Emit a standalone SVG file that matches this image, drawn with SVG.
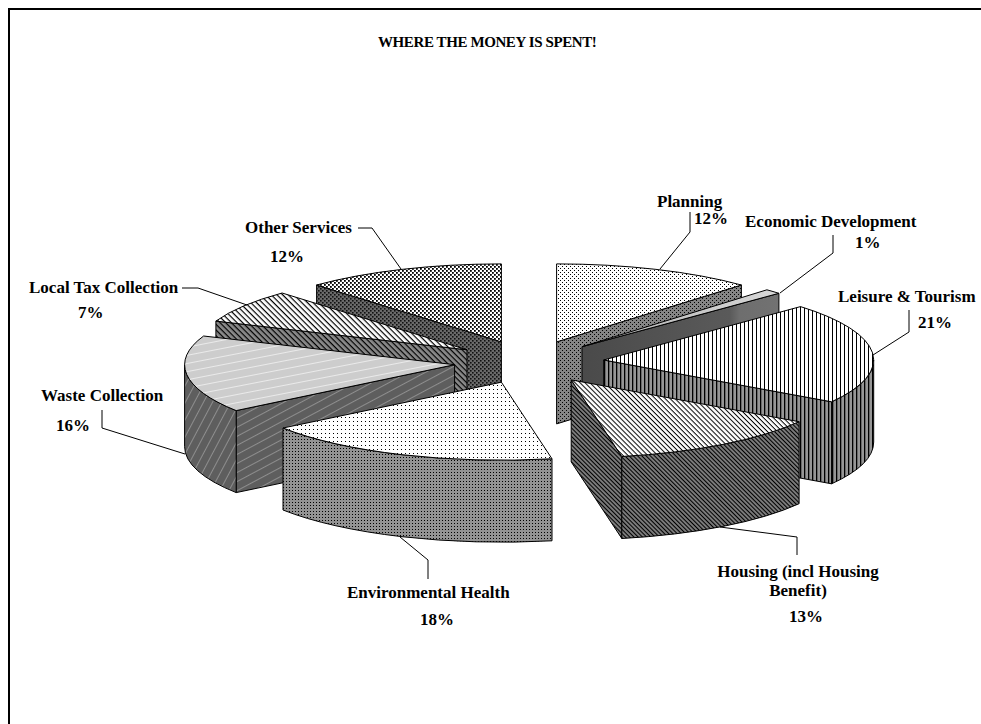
<svg xmlns="http://www.w3.org/2000/svg" width="981" height="724" viewBox="0 0 981 724">
<style>
.face{stroke:#000;stroke-width:1;stroke-linejoin:round}
.lbl{font-family:"Liberation Serif","Times New Roman",serif;font-weight:bold;font-size:17px;fill:#000}
.title{font-family:"Liberation Serif","Times New Roman",serif;font-weight:bold;font-size:15px;letter-spacing:-0.4px;fill:#000}
.lead{fill:none;stroke:#000;stroke-width:1}
</style>
<defs>
<pattern id="plTop" width="4" height="4" patternUnits="userSpaceOnUse"><rect width="4" height="4" fill="#fff"/><rect x="0" y="0" width="1" height="1" fill="#000"/><rect x="2" y="2" width="1" height="1" fill="#000"/></pattern>
<pattern id="plSide" width="4" height="4" patternUnits="userSpaceOnUse"><rect width="4" height="4" fill="#858585"/><rect x="0" y="0" width="1" height="1" fill="#000"/><rect x="2" y="2" width="1" height="1" fill="#000"/></pattern>
<pattern id="envTop" width="4" height="4" patternUnits="userSpaceOnUse"><rect width="4" height="4" fill="#fff"/><rect x="1" y="1" width="1" height="1" fill="#000"/></pattern>
<pattern id="envSide" width="3" height="3" patternUnits="userSpaceOnUse"><rect width="3" height="3" fill="#939393"/><rect x="1" y="1" width="1" height="1" fill="#000"/></pattern>
<pattern id="leiTop" width="4" height="4" patternUnits="userSpaceOnUse"><rect width="4" height="4" fill="#fff"/><rect x="0" y="0" width="1" height="4" fill="#000"/></pattern>
<pattern id="leiSide" width="4" height="4" patternUnits="userSpaceOnUse"><rect width="4" height="4" fill="#969696"/><rect x="0" y="0" width="1.3" height="4" fill="#000"/></pattern>
<pattern id="houTop" width="3.5" height="3.5" patternUnits="userSpaceOnUse" patternTransform="rotate(45)"><rect width="3.5" height="3.5" fill="#fff"/><rect x="0" y="0" width="3.5" height="1" fill="#000"/></pattern>
<pattern id="houSide" width="3" height="3" patternUnits="userSpaceOnUse" patternTransform="rotate(45)"><rect width="3" height="3" fill="#7a7a7a"/><rect x="0" y="0" width="3" height="1" fill="#000"/></pattern>
<pattern id="ltTop" width="4" height="4" patternUnits="userSpaceOnUse" patternTransform="rotate(45)"><rect width="4" height="4" fill="#fff"/><rect x="0" y="0" width="4" height="1.2" fill="#000"/></pattern>
<pattern id="ltSide" width="4" height="4" patternUnits="userSpaceOnUse" patternTransform="rotate(45)"><rect width="4" height="4" fill="#8a8a8a"/><rect x="0" y="0" width="4" height="1.2" fill="#000"/></pattern>
<pattern id="otTop" width="4" height="4" patternUnits="userSpaceOnUse"><rect width="4" height="4" fill="#fff"/><rect x="0" y="0" width="1.8" height="1.8" fill="#000"/><rect x="2" y="2" width="1.8" height="1.8" fill="#000"/></pattern>
<pattern id="otSide" width="4" height="4" patternUnits="userSpaceOnUse"><rect width="4" height="4" fill="#6a6a6a"/><rect x="0" y="0" width="1.6" height="1.6" fill="#111"/><rect x="2" y="2" width="1.6" height="1.6" fill="#111"/></pattern>
<pattern id="waTop" width="8" height="8" patternUnits="userSpaceOnUse" patternTransform="rotate(-11)"><rect width="8" height="8" fill="#cdcdcd"/><rect x="0" y="0" width="8" height="0.8" fill="#f2f2f2"/></pattern>
<pattern id="waFront" width="8" height="8" patternUnits="userSpaceOnUse" patternTransform="rotate(-28)"><rect width="8" height="8" fill="#5e5e5e"/><rect x="0" y="0" width="8" height="0.8" fill="#9a9a9a"/></pattern>
<pattern id="waWall" width="8" height="8" patternUnits="userSpaceOnUse" patternTransform="rotate(-62)"><rect width="8" height="8" fill="#5e5e5e"/><rect x="0" y="0" width="8" height="0.8" fill="#9a9a9a"/></pattern>
<linearGradient id="ecSide" x1="0" y1="0" x2="1" y2="0"><stop offset="0" stop-color="#4a4a4a"/><stop offset="0.75" stop-color="#5a5a5a"/><stop offset="0.8" stop-color="#6e6e6e"/><stop offset="1" stop-color="#727272"/></linearGradient>
<linearGradient id="ecTop" x1="0" y1="0" x2="1" y2="0"><stop offset="0" stop-color="#b0b0b0"/><stop offset="1" stop-color="#d8d8d8"/></linearGradient>
</defs>
<rect width="981" height="724" fill="#fff"/>
<path d="M9,724 V9 H981" fill="none" stroke="#000" stroke-width="2"/>
<text class="title" x="378" y="47">WHERE THE MONEY IS SPENT!</text>

<g id="slice-planning">
<path class="face" fill="url(#plSide)" d="M556.6,341.9 L741.4,285.0 L741.4,367.0 L556.6,423.9 Z"/>
<path class="face" fill="url(#plTop)" d="M556.6,341.9 L556.6,263.9 A270,78 0 0 1 741.4,285.0 Z"/>
<text class="lbl" x="657" y="207">Planning</text>
<text class="lbl" x="694" y="224">12%</text>
</g>

<g id="slice-other-services">
<path class="face" fill="url(#otSide)" d="M501.4,341.9 L316.6,285.0 L316.6,367.0 L501.4,423.9 Z"/>
<path class="face" fill="url(#otTop)" d="M501.4,341.9 L316.6,285.0 A270,78 0 0 1 501.4,263.9 Z"/>
<text class="lbl" x="245" y="233">Other Services</text>
<text class="lbl" x="270" y="262">12%</text>
</g>

<g id="slice-economic-development">
<path class="face" fill="url(#ecSide)" d="M582.0,346.7 L778.9,293.3 L778.9,375.3 L582.0,428.7 Z"/>
<path class="face" fill="url(#ecTop)" d="M582.0,346.7 L766.9,289.8 A270,78 0 0 1 778.9,293.3 Z"/>
<text class="lbl" x="745" y="227">Economic Development</text>
<text class="lbl" x="855" y="248">1%</text>
</g>

<g id="slice-local-tax-collection">
<path class="face" fill="url(#ltSide)" d="M467.0,349.8 L215.9,321.1 L215.9,403.1 L467.0,431.8 Z"/>
<path class="face" fill="url(#ltTop)" d="M467.0,349.8 L215.9,321.1 A270,78 0 0 1 282.1,293.0 Z"/>
<text class="lbl" x="29" y="293">Local Tax Collection</text>
<text class="lbl" x="78" y="318">7%</text>
</g>

<g id="slice-leisure-tourism">
<path class="face" fill="url(#leiSide)" d="M603.7,360.0 L831.6,401.8 L831.6,483.8 L603.7,442.0 Z"/>
<path class="face" fill="url(#leiSide)" d="M873.7,360.0 A270,78 0 0 1 831.6,401.8 L831.6,483.8 A270,78 0 0 0 873.7,442.0 Z"/>
<path class="face" fill="url(#leiTop)" d="M603.7,360.0 L800.5,306.6 A270,78 0 0 1 831.6,401.8 Z"/>
<text class="lbl" x="838" y="302">Leisure &amp; Tourism</text>
<text class="lbl" x="918" y="328">21%</text>
</g>

<g id="slice-waste-collection">
<path class="face" fill="url(#waFront)" d="M454.6,364.7 L236.2,410.6 L236.2,492.6 L454.6,446.7 Z"/>
<path class="face" fill="url(#waWall)" d="M236.2,410.6 A270,78 0 0 1 184.6,364.7 L184.6,446.7 A270,78 0 0 0 236.2,492.6 Z"/>
<path class="face" fill="url(#waTop)" d="M454.6,364.7 L236.2,410.6 A270,78 0 0 1 203.6,336.0 Z"/>
<text class="lbl" x="41" y="401">Waste Collection</text>
<text class="lbl" x="56" y="431">16%</text>
</g>

<g id="slice-housing">
<path class="face" fill="url(#houSide)" d="M571.2,379.9 L621.8,456.5 L621.8,538.5 L571.2,461.9 Z"/>
<path class="face" fill="url(#houSide)" d="M799.1,421.7 A270,78 0 0 1 621.8,456.5 L621.8,538.5 A270,78 0 0 0 799.1,503.7 Z"/>
<path class="face" fill="url(#houTop)" d="M571.2,379.9 L799.1,421.7 A270,78 0 0 1 621.8,456.5 Z"/>
<text class="lbl" x="798" y="577" text-anchor="middle">Housing (incl Housing</text>
<text class="lbl" x="798" y="596" text-anchor="middle">Benefit)</text>
<text class="lbl" x="789" y="622">13%</text>
</g>

<g id="slice-environmental-health">
<path class="face" fill="url(#envSide)" d="M552.0,458.8 A270,78 0 0 1 283.0,428.0 L283.0,510.0 A270,78 0 0 0 552.0,540.8 Z"/>
<path class="face" fill="url(#envTop)" d="M501.4,382.2 L552.0,458.8 A270,78 0 0 1 283.0,428.0 Z"/>
<text class="lbl" x="347" y="598">Environmental Health</text>
<text class="lbl" x="420" y="625">18%</text>
</g>

<g id="connectors">
<polyline class="lead" points="690,212 690,232 660,269"/>
<polyline class="lead" points="833,235 833,253 780,293"/>
<polyline class="lead" points="909,310 909,332 873,355"/>
<polyline class="lead" points="797,555 797,537 720,527"/>
<polyline class="lead" points="428,579 428,560 400,537"/>
<polyline class="lead" points="102,410 102,428 185,454"/>
<polyline class="lead" points="182,288 198,288 247,305"/>
<polyline class="lead" points="358,228 372,228 401,269"/>
</g>
</svg>
